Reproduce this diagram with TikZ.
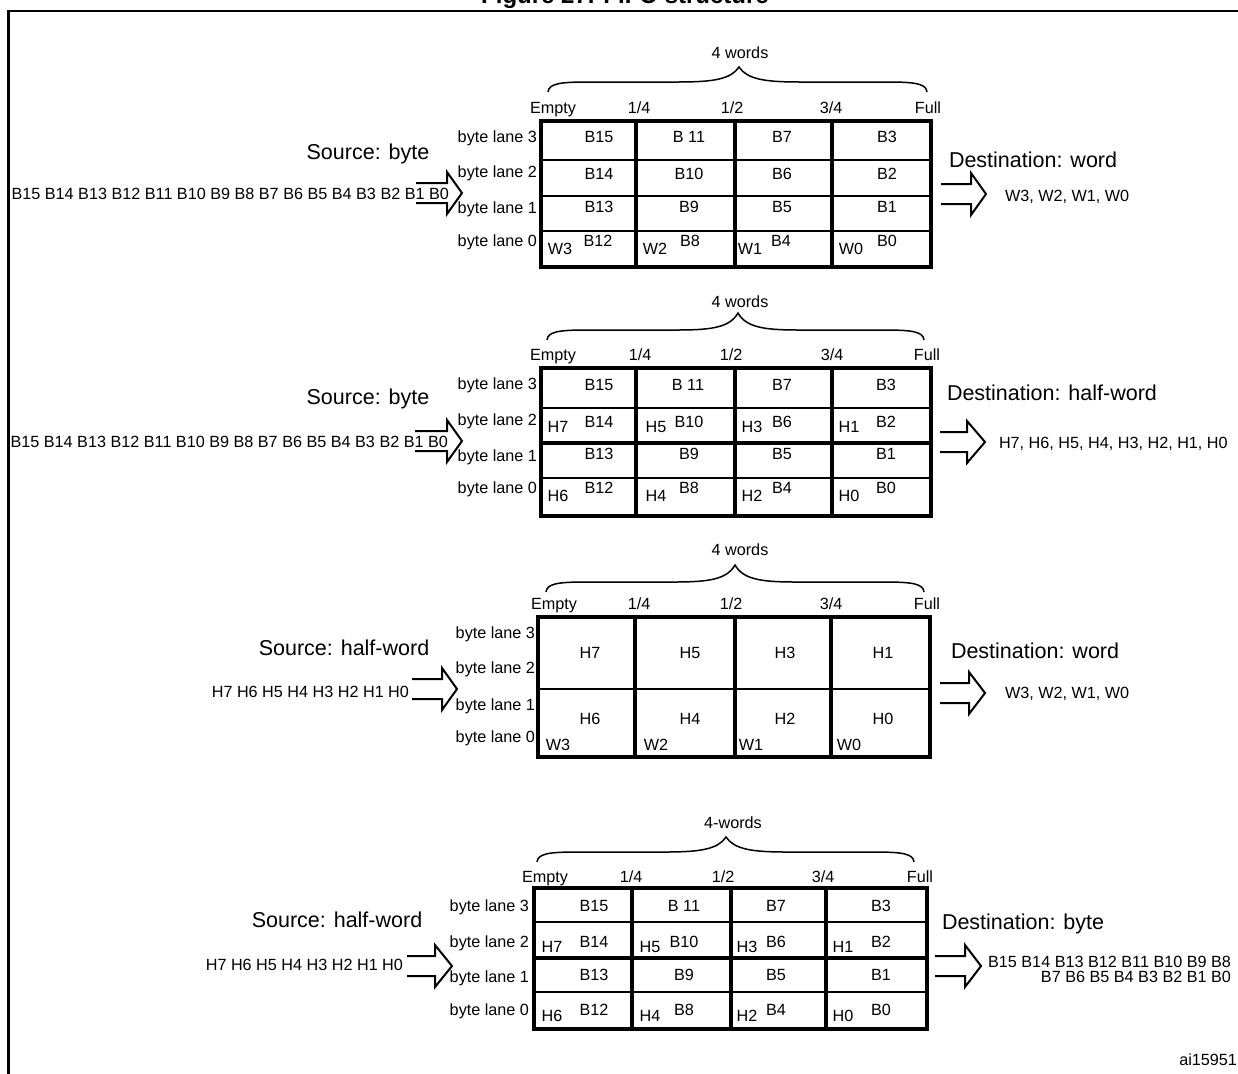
\documentclass[tikz,border=0pt]{standalone}
\usepackage{fontspec}
\setmainfont{Liberation Sans}
\newcommand\inarrow[4]{% shaft start, head base, tip, centre y
  \draw[arr] (#1,#4-10) -- (#2,#4-10) -- (#2,#4-21) -- (#3,#4) -- (#2,#4+21) -- (#2,#4+10) -- (#1,#4+10);}
\newcommand\fbrace[6]{% x0 x1 xc yend yh ytip
  \draw[brc] (#1,#4) .. controls (#1+1,#5+2) and (#1+10,#5) .. (#1+40,#5) -- (#3-60,#5)
    .. controls (#3-25,#5) and (#3-8,#5-3) .. (#3,#6)
    .. controls (#3+8,#5-3) and (#3+25,#5) .. (#3+60,#5) -- (#2-40,#5)
    .. controls (#2-10,#5) and (#2-1,#5+2) .. (#2,#4);}
\begin{document}
\begin{tikzpicture}[x=1pt,y=-1pt,
  every node/.style={inner sep=0pt, outer sep=0pt},
  txt/.style={font=\fontsize{16.2}{18}\selectfont, anchor=base, yshift=-5.6pt},
  hdr/.style={font=\fontsize{21.5}{24}\selectfont, anchor=base west, yshift=-7.5pt},
  outer/.style={line width=4pt},
  colline/.style={line width=3.5pt},
  thinrow/.style={line width=1.5pt},
  thickrow/.style={line width=3.5pt},
  arr/.style={line width=2pt, line join=miter},
  brc/.style={line width=1.5pt},
  frame/.style={line width=2.5pt}]
\useasboundingbox (0,0) rectangle (1238,1073);
% title and frame
\node[font=\bfseries\fontsize{24}{27}\selectfont, anchor=base] (title) at (625,4) {Figure 27. FIFO structure};
\draw[frame] (8.5,1100) -- (8.5,11) -- (1260,11);

% ================= Diagram 1 =================
\node[txt] (d1w) at (740,53) {4 words};
\fbrace{548}{927}{739}{92}{82}{67}
\foreach \x/\t [count=\i] in {553/Empty,639/1\slash 4,732/1\slash 2,831/3\slash 4,928/Full}
  \node[txt] (d1f\i) at (\x,108) {\t};
\foreach \y/\l in {137/3,172/2,208/1,241/0}
  \node[txt,anchor=base east] (d1bl\l) at (537,\y) {byte lane \l};
\draw[thinrow] (541,160) -- (931,160) (541,196) -- (931,196) (541,231) -- (931,231);
\draw[colline] (636,121) -- (636,267) (735,121) -- (735,267) (832,121) -- (832,267);
\draw[outer] (541,121) rectangle (931,267);
\foreach \x/\t [count=\i] in {599/B15,689/B 11,782/B7,887/B3} \node[txt] (d1a\i) at (\x,137) {\t};
\foreach \x/\t [count=\i] in {599/B14,689/B10,782/B6,887/B2} \node[txt] (d1b\i) at (\x,174) {\t};
\foreach \x/\t [count=\i] in {599/B13,689/B9,782/B5,887/B1} \node[txt] (d1c\i) at (\x,207) {\t};
\foreach \x/\t [count=\i] in {598/B12,690/B8,781/B4,887/B0} \node[txt] (d1d\i) at (\x,241) {\t};
\foreach \x/\t [count=\i] in {560/W3,655/W2,750/W1,851/W0} \node[txt] (d1e\i) at (\x,249) {\t};
\node[hdr,anchor=base] (d1src) at (368,152) {Source: byte};
\node[txt,anchor=base east] (d1in) at (449,194) {B15 B14 B13 B12 B11 B10 B9 B8 B7 B6 B5 B4 B3 B2 B1 B0};
\inarrow{416}{447}{462}{193}
\node[hdr] (d1dst) at (949,160) {Destination: word};
\inarrow{941}{971}{986}{194}
\node[txt,anchor=base west] (d1out) at (1005,196) {W3, W2, W1, W0};

% ================= Diagram 2 =================
\node[txt] (d2w) at (740,302) {4 words};
\fbrace{547}{924}{738}{340}{330}{313}
\foreach \x/\t [count=\i] in {553/Empty,640/1\slash 4,731/1\slash 2,832/3\slash 4,927/Full}
  \node[txt] (d2f\i) at (\x,355) {\t};
\foreach \y/\l in {384/3,420/2,456/1,488/0}
  \node[txt,anchor=base east] (d2bl\l) at (537,\y) {byte lane \l};
\draw[thinrow] (541,408) -- (931,408) (541,478) -- (931,478);
\draw[thickrow] (541,443) -- (931,443);
\draw[colline] (636,368) -- (636,516) (735,368) -- (735,516) (832,368) -- (832,516);
\draw[outer] (541,368) rectangle (931,516);
\foreach \x/\t [count=\i] in {599/B15,688/B 11,782/B7,886/B3} \node[txt] (d2a\i) at (\x,385) {\t};
\foreach \x/\t [count=\i] in {599/B14,689/B10,782/B6,886/B2} \node[txt] (d2b\i) at (\x,422) {\t};
\foreach \x/\t [count=\i] in {558/H7,656/H5,752/H3,849/H1} \node[txt] (d2h\i) at (\x,427) {\t};
\foreach \x/\t [count=\i] in {599/B13,689/B9,782/B5,886/B1} \node[txt] (d2c\i) at (\x,454) {\t};
\foreach \x/\t [count=\i] in {599/B12,689/B8,782/B4,886/B0} \node[txt] (d2d\i) at (\x,488) {\t};
\foreach \x/\t [count=\i] in {558/H6,656/H4,752/H2,849/H0} \node[txt] (d2g\i) at (\x,496) {\t};
\node[hdr,anchor=base] (d2src) at (368,397) {Source: byte};
\node[txt,anchor=base east] (d2in) at (448,442) {B15 B14 B13 B12 B11 B10 B9 B8 B7 B6 B5 B4 B3 B2 B1 B0};
\inarrow{415}{447}{462}{441}
\node[hdr] (d2dst) at (947,393) {Destination: half-word};
\inarrow{940}{967}{985}{442}
\node[txt,anchor=base west] (d2out) at (999,443) {H7, H6, H5, H4, H3, H2, H1, H0};

% ================= Diagram 3 =================
\node[txt] (d3w) at (740,550) {4 words};
\fbrace{546}{924}{735}{592}{582}{565}
\foreach \x/\t [count=\i] in {554/Empty,639/1\slash 4,731/1\slash 2,831/3\slash 4,927/Full}
  \node[txt] (d3f\i) at (\x,604) {\t};
\foreach \y/\l in {633/3,668/2,705/1,737/0}
  \node[txt,anchor=base east] (d3bl\l) at (535,\y) {byte lane \l};
\draw[thinrow] (538,689) -- (930,689);
\draw[colline] (635,617) -- (635,757) (735,617) -- (735,757) (831,617) -- (831,757);
\draw[outer] (538,617) rectangle (930,757);
\foreach \x/\t [count=\i] in {590/H7,690/H5,785/H3,883/H1} \node[txt] (d3a\i) at (\x,653) {\t};
\foreach \x/\t [count=\i] in {590/H6,690/H4,785/H2,883/H0} \node[txt] (d3b\i) at (\x,719) {\t};
\foreach \x/\t [count=\i] in {558/W3,656/W2,751/W1,849/W0} \node[txt] (d3e\i) at (\x,745) {\t};
\node[hdr,anchor=base] (d3src) at (344,648) {Source: half-word};
\node[txt,anchor=base east] (d3in) at (409,692) {H7 H6 H5 H4 H3 H2 H1 H0};
\inarrow{412}{442}{457}{689}
\node[hdr] (d3dst) at (951,651) {Destination: word};
\inarrow{940}{969}{985}{693}
\node[txt,anchor=base west] (d3out) at (1005,693) {W3, W2, W1, W0};

% ================= Diagram 4 =================
\node[txt] (d4w) at (733,823) {4-words};
\fbrace{537}{914}{726}{862}{852}{837}
\foreach \x/\t [count=\i] in {545/Empty,631/1\slash 4,723/1\slash 2,823/3\slash 4,920/Full}
  \node[txt] (d4f\i) at (\x,877) {\t};
\foreach \y/\l in {906/3,942/2,977/1,1010/0}
  \node[txt,anchor=base east] (d4bl\l) at (529,\y) {byte lane \l};
\draw[thinrow] (534,922) -- (927,922) (534,992) -- (927,992);
\draw[thickrow] (534,958) -- (927,958);
\draw[colline] (632,888) -- (632,1029) (731,888) -- (731,1029) (826,888) -- (826,1029);
\draw[outer] (534,888) rectangle (927,1029);
\foreach \x/\t [count=\i] in {594/B15,684/B 11,776/B7,881/B3} \node[txt] (d4a\i) at (\x,906) {\t};
\foreach \x/\t [count=\i] in {594/B14,684/B10,776/B6,881/B2} \node[txt] (d4b\i) at (\x,942) {\t};
\foreach \x/\t [count=\i] in {552/H7,650/H5,747/H3,843/H1} \node[txt] (d4h\i) at (\x,947) {\t};
\foreach \x/\t [count=\i] in {594/B13,684/B9,776/B5,881/B1} \node[txt] (d4c\i) at (\x,975) {\t};
\foreach \x/\t [count=\i] in {594/B12,684/B8,776/B4,881/B0} \node[txt] (d4d\i) at (\x,1010) {\t};
\foreach \x/\t [count=\i] in {552/H6,650/H4,747/H2,843/H0} \node[txt] (d4g\i) at (\x,1016) {\t};
\node[hdr,anchor=base] (d4src) at (337,920) {Source: half-word};
\node[txt,anchor=base east] (d4in) at (403,965) {H7 H6 H5 H4 H3 H2 H1 H0};
\inarrow{407}{435}{452}{966}
\node[hdr] (d4dst) at (942,922) {Destination: byte};
\inarrow{935}{965}{981}{966}
\node[txt,anchor=base east] (d4out1) at (1231,962) {B15 B14 B13 B12 B11 B10 B9 B8};
\node[txt,anchor=base east] (d4out2) at (1231,977) {B7 B6 B5 B4 B3 B2 B1 B0};

\node[txt,anchor=base east] (code) at (1237,1060) {ai15951};
\end{tikzpicture}
\end{document}
